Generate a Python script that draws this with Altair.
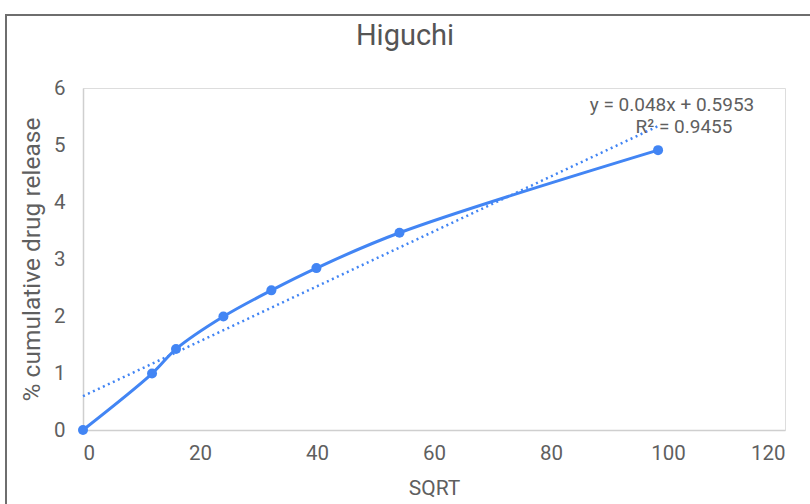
import altair as alt
import pandas as pd

# ---- data ----
sqrt_x = [0, 11.8, 15.9, 24.0, 32.2, 39.9, 54.1, 98.3]
release = [0, 0.99, 1.42, 1.99, 2.45, 2.84, 3.46, 4.91]
x_ticks = [0, 20, 40, 60, 80, 100, 120]
y_ticks = [0, 1, 2, 3, 4, 5, 6]
title_text = ["Higuchi"]
equation_text = ["y = 0.048x + 0.5953"]
r2_text = ["R² = 0.9455"]

df = pd.DataFrame({"SQRT": sqrt_x, "release": release})

BLUE = "#4285F4"
TXT = "#5f5f5f"
FONT = "Roboto"

W, H = 702, 342
PAD_L, PAD_T = 83, 88

x_enc = alt.X(
    "SQRT:Q",
    scale=alt.Scale(domain=[0, 120], nice=False),
    axis=alt.Axis(
        values=x_ticks, title="SQRT", grid=False, ticks=False,
        domainColor="#cfcfcf", domainWidth=1.5,
        labelFont=FONT, labelFontSize=20.5, labelColor=TXT, labelPadding=13,
        titleFont=FONT, titleFontSize=21, titleColor=TXT, titleFontWeight="normal",
        titleY=47,
    ),
)
y_enc = alt.Y(
    "release:Q",
    scale=alt.Scale(domain=[0, 6], nice=False),
    axis=alt.Axis(
        values=y_ticks, title="% cumulative drug release", grid=False, ticks=False,
        domainColor="#cfcfcf", domainWidth=1.5,
        labelFont=FONT, labelFontSize=20.5, labelColor=TXT, labelPadding=18,
        titleFont=FONT, titleFontSize=24.5, titleColor=TXT, titleFontWeight="normal",
        titleX=-39, titleY=H / 2,
    ),
)

base = alt.Chart(df)

frame = base.mark_rect(fillOpacity=0, stroke="#6e6e6e", strokeWidth=2).encode(
    x=alt.value(-77), x2=alt.value(740), y=alt.value(-73), y2=alt.value(440)
)

trend = base.transform_regression("SQRT", "release", method="linear").mark_line(
    color=BLUE, strokeWidth=2.5, strokeDash=[2, 3.5]
).encode(x=x_enc, y=y_enc)

line = base.mark_line(color=BLUE, strokeWidth=3, interpolate="catmull-rom").encode(
    x=x_enc, y=y_enc
)
points = base.mark_point(filled=True, color=BLUE, size=100, opacity=1).encode(
    x=x_enc, y=y_enc
)

title = alt.Chart(pd.DataFrame({"t": title_text})).mark_text(
    font=FONT, fontSize=29, color="#555555", align="center", baseline="alphabetic"
).encode(text="t:N", x=alt.value(322), y=alt.value(-43))
eq = alt.Chart(pd.DataFrame({"t": equation_text})).mark_text(
    font=FONT, fontSize=19, color=TXT, align="center", baseline="alphabetic"
).encode(text="t:N", x=alt.value(589), y=alt.value(23))
r2 = alt.Chart(pd.DataFrame({"t": r2_text})).mark_text(
    font=FONT, fontSize=19, color=TXT, align="center", baseline="alphabetic"
).encode(text="t:N", x=alt.value(601), y=alt.value(45))

chart = alt.layer(frame, trend, line, points, title, eq, r2).properties(
    width=W,
    height=H,
    autosize=alt.AutoSizeParams(type="none"),
    padding={"left": PAD_L, "top": PAD_T, "right": 810 - PAD_L - W, "bottom": 504 - PAD_T - H},
).configure_view(stroke=None).configure(background="white")

chart.save("out.html", embed_options={"renderer": "svg", "actions": False})
